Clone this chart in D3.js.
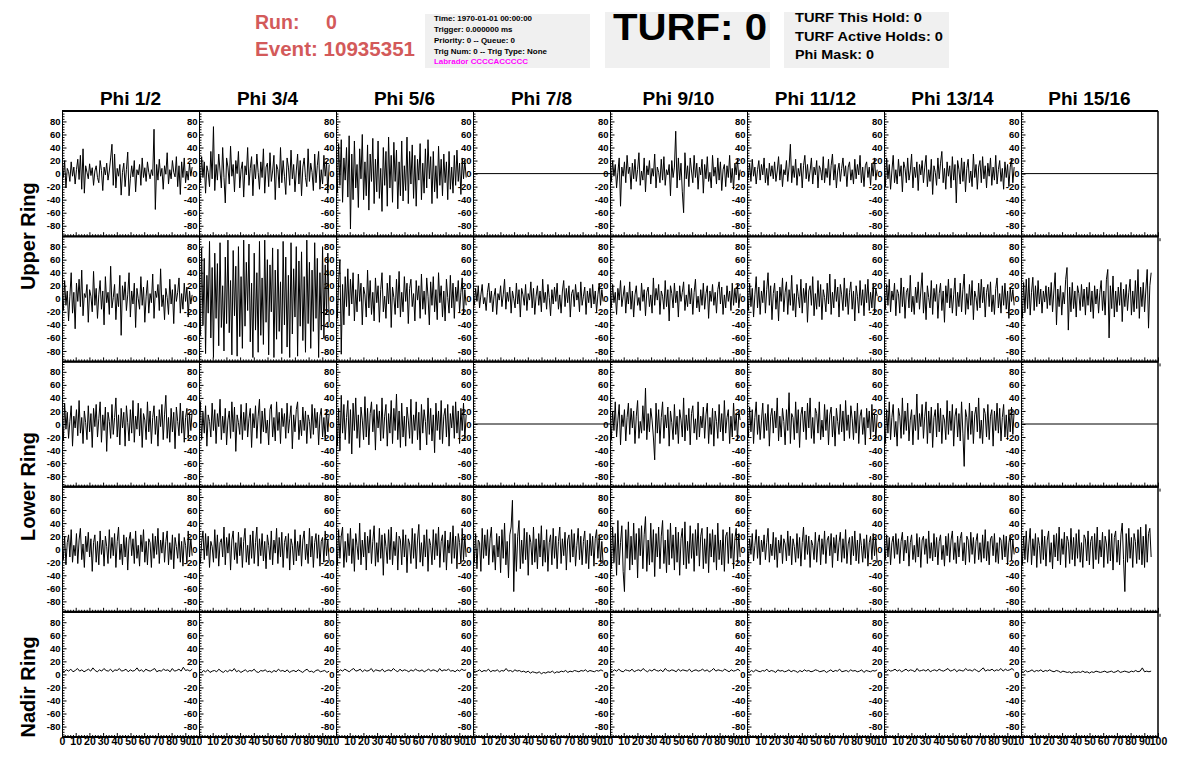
<!DOCTYPE html>
<html><head><meta charset="utf-8">
<script src="https://cdn.jsdelivr.net/npm/d3@7"></script>
<style>
body{margin:0;background:#fff}
svg{display:block}
text{font-family:"Liberation Sans",Arial,Helvetica,sans-serif;font-weight:bold}
</style>
</head><body>
<svg id="c" width="1196" height="772"></svg>
<script>
// ---------------- data ----------------
const colTitles = ["Phi 1/2","Phi 3/4","Phi 5/6","Phi 7/8","Phi 9/10","Phi 11/12","Phi 13/14","Phi 15/16"];
const ringLabels = ["Upper Ring","Lower Ring","Nadir Ring"];
const yTicks = [-80,-60,-40,-20,0,20,40,60,80];
const xTicks = [0,10,20,30,40,50,60,70,80,90,100];
const yDomain = [-96,96];
const xDomain = [0,100];
const waveSpanNs = 95;
const runLine = ["Run:", "0"];
const eventLine = "Event: 10935351";
const infoLines = ["Time: 1970-01-01 00:00:00","Trigger: 0.000000 ms","Priority: 0 -- Queue: 0","Trig Num: 0 -- Trig Type: None"];
const labradorLine = "Labrador CCCCACCCCC";
const turfTitle = "TURF: 0";
const turfLines = ["TURF This Hold: 0","TURF Active Holds: 0","Phi Mask: 0"];

// Upper ring, first row (null = empty channel)
const row1 = [
 [14,-6,20,-22,8,3,-12,18,-4,10, -16,6,22,-9,28,-24,38,-30,12,2, -8,15,-3,9,-18,4,12,-6,-14,20, 5,-26,10,-2,16,-10,4,24,45,-18,
  30,-22,8,-4,14,-33,2,16,-20,6, 33,-34,-8,12,-5,20,-28,6,-2,14, -18,24,-6,9,-12,18,2,-8,6,-3, 68,-55,14,-10,22,-4,8,-24,12,-1,
  32,-16,6,-8,20,2,-5,26,-20,12, -32,18,-6,24,-14,4,-10,16,-4,10],
 [8,-14,26,-6,18,-30,12,2,-20,34, -8,72,-26,14,-10,30,4,-22,40,-6, -45,24,10,-16,42,-4,14,-28,20,0, 34,-22,6,18,-36,12,-2,40,-18,8,
  26,-34,14,-8,30,2,-24,18,-6,38, -30,10,16,-20,32,-12,4,28,-40,14, 6,-22,40,-14,20,-4,-32,24,10,-18, 36,-8,14,-28,4,30,-16,20,-34,10,
  24,-6,-20,38,-12,16,2,-26,30,-14, 12,34,-24,6,-16,28,-4,18,-30,14],
 [16,-30,46,-18,52,-44,24,-10,40,-36, 58,-85,30,-40,50,-22,14,-52,38,-8, 60,-40,18,-34,44,-56,30,-12,54,-46, 22,-28,50,-38,8,-58,40,-18,34,-50,
  56,-22,28,-44,48,-12,36,-54,18,-34, 50,-42,12,-26,56,-46,34,-16,44,-38, 28,-50,22,-10,46,-40,16,-30,38,-22, 52,-8,26,-46,34,-28,12,-38,42,-18,
  22,-34,30,-14,18,-40,34,-24,10,-30, 28,-18,36,-12,16,-32,24,-8,20,-6],
 null,
 [6,-12,20,-4,14,-22,2,24,-50,10, -4,18,-14,28,0,10,-24,16,-8,22, -12,6,32,-18,4,-10,24,-28,12,-2, 20,-16,8,-4,30,-22,10,2,-14,22,
  -10,26,-18,6,-2,14,-34,20,-6,10, 65,-22,24,-10,16,-28,-60,32,-8,12, -20,24,4,-14,28,-6,16,-24,10,-2, 22,-30,14,-8,26,-12,2,-22,28,-4,
  10,-16,24,-10,18,-26,6,14,-20,12, -6,28,-14,8,-24,16,-2,22,-10,6],
 [10,-6,16,-12,22,-4,10,-16,6,20, -10,14,-2,24,-14,8,-18,16,-4,12, -8,18,-12,4,26,-10,14,-20,6,-2, 20,-12,10,45,-14,12,-6,22,-18,8,
  -4,16,-22,12,28,-8,14,-12,4,24, -16,10,-2,20,-22,12,6,-10,26,-14, 8,-6,22,-18,12,30,-10,14,-22,4, 16,-12,8,24,-4,12,-20,10,18,-10,
  6,-16,22,-8,14,-2,28,-14,10,-20, 12,18,-6,10,-18,16,-4,24,-10,6],
 [12,-20,24,-8,14,-24,4,28,-14,6, -16,22,-4,12,-28,18,8,-14,24,-10, 4,30,-22,10,-6,18,-26,14,-2,20, -14,10,28,-20,6,-12,22,-32,12,2,
  -18,24,-8,16,34,-14,8,-24,18,-4, 12,-22,26,-10,14,-45,20,6,-16,24, -12,18,-28,8,22,-14,4,-20,30,-6, 14,-24,10,20,-14,26,-8,12,-22,16,
  -4,24,-18,10,-10,28,-16,6,20,-12, 8,-24,18,-6,14,-20,10,22,-14,10],
 null
];

// Upper ring, second row
const row2 = [
 [6,-18,28,-10,12,-34,4,40,-22,10, -46,24,-4,30,-12,44,-26,8,2,22, -36,14,4,-20,42,-10,16,-30,6,28, -16,12,-40,34,-6,10,-24,50,-14,2,
  22,-32,8,-12,36,-56,20,-2,26,-18, 6,40,-28,12,-8,24,-44,16,0,-16, 34,-10,18,-36,4,28,-22,8,-6,38, -30,12,2,22,-18,46,-12,6,-32,16,
  2,-24,30,-8,14,-38,22,-4,10,32, -22,8,-16,24,-4,18,-28,12,-8,6],
 [30,-56,78,-40,62,-84,36,-22,88,-60, 48,-90,70,-30,54,-72,86,-44,20,-80, 64,-38,90,-52,28,-86,74,-26,50,-88, 80,-58,34,-76,90,-42,56,-18,84,-66,
  24,-90,70,-48,40,-82,88,-56,32,-70, 90,-36,60,-86,52,-20,78,-90,44,-62, 76,-50,26,-84,88,-40,64,-74,36,-90, 86,-54,46,-28,80,-88,58,-42,72,-64,
  34,-82,90,-38,56,-76,44,-50,86,-30, 62,-90,40,-48,80,-60,52,-24,70,-36],
 [14,-30,26,60,-85,22,-40,34,-12,46, -26,30,-8,40,-34,14,-20,38,-4,24, -40,18,6,-28,44,-14,28,-24,10,-34, 32,-6,20,-36,14,40,-20,4,-30,24,
  -8,36,-44,18,2,-24,30,-14,42,-28, 10,-20,34,-4,24,-38,16,30,-12,8, -34,28,-2,20,-30,38,-16,12,-24,32, 4,-40,26,-10,34,-20,14,-32,40,-6,
  20,-28,12,-34,30,2,-22,36,-14,24, -30,18,-4,28,-20,10,32,-24,14,-10],
 [4,-10,16,-4,20,-14,6,22,-8,2, -18,10,24,-6,12,-20,4,16,-24,8, -2,20,-12,6,30,-16,10,-4,18,-22, 12,0,-14,24,-8,14,-28,16,6,-10,
  22,-18,8,-2,26,-14,16,-24,4,20, -10,12,-20,30,-6,10,-16,22,2,-26, 14,-8,18,-4,24,-16,6,-22,12,28, -12,16,-6,20,-28,8,14,-12,22,-2,
  10,-20,26,-10,4,18,-24,12,-6,16, -14,22,-8,12,-20,6,24,-10,14,-4],
 [8,-14,22,-6,10,-24,16,-2,28,-12, 4,20,-22,10,-8,26,-16,12,-28,6, 20,-10,2,-18,24,-4,14,-26,10,18, -12,6,-22,32,-10,16,-2,22,-24,12,
  4,-16,28,-12,14,-34,20,8,-14,24, -6,12,-28,20,-4,10,26,-18,6,-12, 22,-8,16,-24,10,30,-14,4,-20,14, -10,24,-16,8,20,-30,12,-4,22,-10,
  10,-22,14,26,-8,18,-24,6,-14,20, -4,12,-18,24,-10,16,-6,22,-14,8],
 [10,-18,24,-12,16,-28,6,34,-14,18, -24,12,-6,28,-22,14,40,-10,20,-32, 8,24,-16,12,-34,18,-4,32,-20,10, 26,-24,14,-10,36,-18,8,-28,22,4,
  -14,30,-22,16,-6,24,-36,12,20,-10, 34,-26,8,-16,28,-12,22,-32,14,2, -20,24,-8,38,-24,10,-14,30,-4,18, -28,22,6,-18,32,-12,16,-24,10,26,
  -16,12,-34,20,4,-22,28,-10,14,-26, 22,-6,30,-18,10,-14,24,-22,16,4],
 [6,-16,22,-10,30,-20,12,-2,24,-26, 14,8,-22,32,-12,18,-30,10,16,-14, 36,-20,4,-24,18,-6,26,-16,12,40, -22,10,-32,20,2,-14,28,-24,16,-4,
  22,-30,8,24,-18,12,-36,20,-6,30, -14,16,-22,6,32,-26,10,-12,24,-20, 14,38,-24,8,-16,22,-10,28,-32,12, 2,-18,24,-14,30,-6,18,-28,10,22,
  -12,26,-20,6,-24,16,32,-14,8,-22, 20,-10,24,-16,12,-30,18,-4,14,-10],
 [-5,-30,25,-20,30,-15,32,-25,10,33, -18,20,-12,28,-8,15,-22,12,-5,20, -15,18,-10,25,-20,12,40,-40,15,-12, 20,-25,10,-8,30,48,-48,18,-20,25,
  -15,12,-28,20,8,-18,22,-12,15,-25, 18,-10,25,-20,12,-30,20,-8,15,-22, 10,28,-18,12,-25,30,45,-60,20,-15, 35,-28,12,-20,18,-10,25,-35,15,-12,
  22,-18,10,30,-25,12,-20,28,-15,45, -30,18,-12,25,-20,15,45,-45,20,40]
];

// Lower ring, first row
const row3 = [
 [14,-26,32,-8,18,-22,4,28,-34,12, -6,22,-18,36,-14,10,-30,20,2,-24, 28,-12,16,-36,24,-4,30,-20,8,34, -28,14,-10,26,-42,18,4,-22,30,-16,
  10,40,-20,14,-32,24,-6,18,-34,28, 2,-26,22,-14,36,-28,12,-8,32,-18, 24,-36,16,6,-24,34,-12,20,-30,10, 28,-16,12,-34,22,-4,30,-24,14,44,
  -22,10,-28,24,-12,18,-38,26,4,-18, 32,-14,20,-28,10,24,-22,16,-10,20],
 [10,34,-24,18,-14,28,-34,14,4,-20, 32,-10,22,-30,16,-4,38,-24,12,-14, 24,-32,6,20,-22,34,-12,26,-42,14, 2,-16,30,-24,18,-10,32,-20,8,24,
  -36,16,-6,28,-22,12,38,-30,20,-12, 24,-14,6,-32,22,30,-20,10,-26,34, -10,18,-30,24,-4,16,-22,32,-14,8, 28,-38,14,-12,22,34,-24,6,-18,26,
  -10,20,-30,14,4,-22,30,-16,24,-6, 18,-32,12,24,-20,10,-24,22,-12,16],
 [20,-34,24,-40,44,-14,30,-24,10,36, -30,22,-46,32,-10,40,-22,14,-36,26, 6,-24,42,-20,24,-32,16,34,-12,22, -40,30,-6,20,-26,40,-22,12,30,-34,
  16,-14,36,-30,24,-10,46,-24,20,-36, 32,-20,12,-34,26,6,-22,38,-30,14, -10,34,-24,18,-40,30,-14,22,4,-32, 40,-16,24,-26,14,-44,32,-10,20,-24,
  36,-30,12,24,-20,30,-34,16,-6,28, -22,34,-14,20,-30,24,-10,32,-24,14],
 null,
 [14,-24,20,-10,34,-20,6,30,-32,14, -4,22,-26,10,32,-16,24,-6,20,-30, 12,36,-22,4,-14,28,-10,55,-24,16, -12,24,6,-20,-55,32,-14,22,-30,10,
  34,-22,14,-6,26,-34,20,2,-24,30, -16,12,-30,22,6,-20,40,-26,14,-10, 24,-32,16,28,-14,8,-24,34,-20,12, -6,26,-22,14,32,-30,10,-16,24,-34,
  20,4,-22,30,-12,16,-26,36,-14,10, 22,-30,12,-20,32,-10,16,-24,20,6],
 [6,-20,26,-12,22,-30,10,34,-16,14, -24,6,32,-22,16,-10,30,-34,12,24, -14,20,-6,40,-26,12,-20,24,4,-32, 22,-10,48,-30,16,10,-24,34,-14,22,
  -36,14,26,-12,20,-24,32,-6,40,-22, 10,-30,24,16,-14,34,-24,6,-20,30, -10,22,-32,14,26,-20,12,-34,24,4, -16,30,-12,20,-26,36,-10,14,-22,28,
  8,-24,20,-14,32,-30,12,22,-16,10, -32,24,-6,20,-22,30,-12,16,-24,14],
 [16,-30,22,-14,34,-24,10,30,-20,4, -34,24,12,-22,40,-16,20,-10,32,-26, 6,22,-32,14,-10,46,-24,16,-4,30, -22,12,34,-30,20,-14,26,-36,10,22,
  -20,32,-12,24,-30,14,6,-24,36,-16, 20,-10,30,-34,12,24,-20,16,-26,34, -14,-65,22,10,-24,32,-16,20,-30,14, 26,-12,40,-22,6,-30,24,16,-20,30,
  -24,12,22,-34,20,-10,32,-14,24,-26, 10,30,-20,14,-24,22,-12,26,-16,20],
 null
];

// Lower ring, second row
const row4 = [
 [10,-16,20,-24,10,22,-12,30,-20,6, -10,24,-22,14,32,-16,8,-28,20,-4, 26,-12,16,-34,10,22,-20,12,-24,28, -8,14,-26,20,4,-22,30,-14,18,-10,
  24,-28,12,34,-16,8,-24,22,-12,18, -32,14,26,-10,16,-22,28,-14,6,-26, 22,-4,30,-20,12,-24,16,10,-28,24, -14,20,-8,32,-22,14,-6,26,-20,12,
  28,-24,10,-16,22,-30,18,4,-14,24, -20,12,-26,18,6,-22,28,-12,16,-10],
 [14,-22,10,28,-16,24,-10,20,-28,12, 4,-20,30,-14,22,-26,10,16,-12,34, -24,18,-6,24,-32,14,28,-16,10,-22, 26,-10,18,-28,12,32,-20,6,-24,22,
  -14,28,-22,10,34,-26,16,-10,24,-18, 12,-30,22,6,-16,28,-24,14,-6,32, -22,18,-12,26,-28,10,20,-14,24,-32, 16,6,-24,30,-18,12,-10,22,-26,14,
  28,-16,8,-22,32,-12,20,-28,10,24, -14,22,-26,12,18,-20,28,-10,14,-18],
 [10,-24,30,-14,20,34,-28,12,-20,24, -10,32,-22,16,-34,24,6,-16,40,-24, 14,-12,26,-32,20,-6,30,-22,12,36, -26,10,-20,32,-14,22,-40,24,4,-22,
  30,-16,34,-24,12,-10,26,-32,20,14, -24,30,-12,22,-36,16,8,-22,32,-14, 24,-30,14,38,-20,10,-26,22,-12,30, -34,16,6,-24,30,-16,24,-10,34,-28,
  12,22,-20,28,-32,14,-6,26,-22,36, -14,20,-30,24,10,-22,32,-16,20,-12],
 [6,-20,24,-30,14,10,-34,32,-14,22, -10,30,-24,16,34,-20,6,-32,24,-12, 20,-36,30,-14,40,-24,12,-44,22,34, 75,-65,24,-34,20,44,-30,14,-22,32,
  -16,26,-40,22,10,-24,34,-20,16,-30, 24,-12,36,-26,14,-20,30,-34,10,22, -24,32,-14,20,-30,12,34,-22,16,-10, 26,-32,14,22,-20,30,-12,24,-26,6,
  32,-16,20,-24,12,28,-22,14,-30,24, -10,20,-26,16,30,-14,22,-20,12,-24],
 [14,-30,34,-20,24,-40,44,-24,10,36, -34,-65,30,-14,42,-32,20,-24,40,-16, 24,-44,32,-10,36,-30,22,50,-34,14, -24,40,-20,30,-42,24,-12,34,-30,20,
  44,-22,14,-36,30,-24,40,-14,22,-32, 34,-20,26,-40,16,32,-24,42,-30,12, -22,36,-14,24,-34,30,-10,40,-26,20, 32,-30,16,-22,34,-36,24,-12,30,-20,
  22,-32,40,-16,14,-24,30,-34,20,26, -22,34,-14,24,-30,16,32,-20,24,-12],
 [12,-20,16,-8,24,-18,6,30,-14,20, -24,14,-4,22,-16,10,32,-20,8,-10, 26,-16,18,-28,14,-6,22,-22,16,8, -18,28,-10,20,-24,16,4,-20,24,-14,
  18,-26,10,34,-16,22,-8,20,-28,14, 6,-16,26,-20,10,22,-24,16,-8,28, -22,14,20,-10,24,-28,18,-6,22,-18, 10,26,-20,16,-14,30,-22,8,18,-24,
  20,-10,28,-18,14,-22,24,6,-20,16, -14,22,-26,10,20,-16,24,-10,18,-20],
 [8,-16,22,-12,18,-24,10,20,-14,24, -8,16,-22,12,26,-18,14,-6,20,-26, 10,22,-16,6,-20,24,-12,18,-28,14, 20,-8,16,-22,28,-14,10,-18,24,-12,
  18,-24,12,22,-16,6,-26,20,-10,24, -20,14,28,-16,10,-22,20,-12,16,26, -18,10,-24,20,14,-20,26,-8,18,-22, 12,24,-16,10,-20,22,-14,30,-18,12,
  -24,16,20,-10,24,-20,10,-22,18,14, -16,22,-12,20,-24,10,22,-18,14,-8],
 [12,-24,20,-16,28,-20,8,32,-24,16, -10,24,-28,18,6,-22,30,-16,20,-26, 14,28,-20,10,-30,22,-12,24,-18,34, -24,16,-8,26,-28,20,12,-22,32,-16,
  18,-26,24,-14,30,-20,10,-28,22,16, -18,28,-24,12,20,-30,24,-16,34,-22, 14,-12,26,-28,20,8,-22,30,-18,24, -32,18,28,-20,14,-24,22,40,-16,-65,
  24,-20,32,-14,18,-28,24,12,-22,30, -16,34,-24,20,-28,38,-20,24,32,-12]
];

// Nadir ring
const row5 = [
 [6,4,7,5,8,4,6,9,5,7,4,6,8,5,10,6,4,7,5,9,6,5,8,4,7,6,9,5,6,8,4,7,5,6,10,5,7,4,8,6,5,7,9,4,6,5,8,6,7,4,9,5,6,8,5,11,6,7,5,8],
 [5,2,6,4,7,3,5,6,4,8,5,3,6,4,7,5,9,4,6,3,5,7,4,6,5,8,4,3,6,5,7,4,5,3,6,4,8,5,6,4,7,3,5,6,4,7,5,3,6,8,4,5,3,6,7,4,5,6,3,5],
 [6,4,7,5,8,6,4,7,9,5,6,8,4,7,5,6,9,4,7,6,5,8,4,6,7,5,9,6,4,8,5,7,6,4,7,5,8,6,5,7,4,6,8,5,7,6,4,9,5,7,6,8,5,6,4,7,5,8,6,7],
 [6,4,5,7,4,6,5,8,4,6,5,7,4,6,5,9,5,6,4,7,5,6,4,5,3,5,2,4,3,2,4,1,3,2,4,3,5,2,4,3,5,4,6,3,5,4,6,5,4,6,5,7,4,6,5,4,6,5,7,5],
 [6,4,7,5,8,5,4,7,6,5,8,4,6,7,5,9,6,4,7,5,8,6,5,7,4,9,6,5,7,6,4,8,5,7,6,5,8,4,6,7,5,6,8,5,7,4,6,9,5,7,6,5,8,6,4,7,5,6,8,5],
 [5,3,6,4,7,5,4,6,5,8,4,6,5,3,7,5,6,4,5,7,4,6,5,3,6,4,7,5,6,4,5,7,6,4,5,6,3,5,7,4,6,5,8,4,5,6,4,7,5,6,4,5,7,3,6,5,4,6,5,7],
 [6,4,7,5,6,8,5,7,4,6,8,5,7,6,4,9,5,6,7,5,8,4,6,7,5,8,6,5,7,9,5,6,8,4,7,6,5,9,6,7,5,8,6,4,7,10,5,7,6,8,5,7,6,9,5,8,6,7,9,6],
 [5,3,6,4,5,7,4,6,5,7,4,6,5,7,5,4,6,5,3,5,4,3,4,2,4,3,4,3,5,3,4,2,4,3,5,4,3,4,5,3,4,5,3,4,6,3,4,5,4,3,5,4,6,4,5,10,4,5,4,5]
];

// ---------------- drawing ----------------
const svg = d3.select("#c");
const defs = svg.append("defs");
const L0 = 62, CW = 137, T0 = 111, RH = 125.2, NC = 8;
const rows = [row1, row2, row3, row4, row5];
const minorY = d3.range(-96, 97, 4).filter(v => v % 20 !== 0);
const minorX = d3.range(0, 101, 2).filter(v => v % 10 !== 0);
const red = "#d35a5a";

rows.forEach((row, r) => {
  const top = T0 + r * RH, bot = top + RH;
  const y = d3.scaleLinear().domain(yDomain).range([bot, top]);
  row.forEach((vals, c) => {
    const left = L0 + c * CW, right = left + CW;
    const x = d3.scaleLinear().domain(xDomain).range([left, right]);
    const g = svg.append("g");
    const cid = `clip${r}_${c}`;
    defs.append("clipPath").attr("id", cid).append("rect")
      .attr("x", left).attr("y", top).attr("width", CW).attr("height", RH);
    // y axis (ticks pointing inward)
    g.append("g").attr("transform", `translate(${left},0)`)
      .call(d3.axisLeft(y).tickValues(minorY).tickSizeInner(-2.5).tickSizeOuter(0).tickFormat(""));
    const ya = g.append("g").attr("transform", `translate(${left},0)`)
      .call(d3.axisLeft(y).tickValues(yTicks).tickSizeInner(-4.5).tickSizeOuter(0).tickPadding(1.5).tickFormat(d => String(d)));
    ya.selectAll("text").attr("font-size", 9.5);
    ya.attr("font-family", null).attr("font-size", null);
    // x axis at bottom (ticks pointing up)
    g.append("g").attr("transform", `translate(0,${bot})`)
      .call(d3.axisBottom(x).tickValues(minorX).tickSizeInner(-2).tickSizeOuter(0).tickFormat(""));
    if (r === rows.length - 1) {
      const clipX = `clipx${c}`;
      // clip rect in the axis group's local coordinates (group is translated by bot)
      defs.append("clipPath").attr("id", clipX).append("rect")
        .attr("x", left - 10).attr("y", -10)
        .attr("width", (c === NC - 1 ? CW + 30 : CW + 13)).attr("height", 30);
      const xa = g.append("g").attr("transform", `translate(0,${bot})`).attr("clip-path", `url(#${clipX})`)
        .call(d3.axisBottom(x).tickValues(xTicks).tickSizeInner(-4).tickSizeOuter(0).tickPadding(1)
          .tickFormat(d => (d === 0 && c > 0) ? "" : String(d)));
      xa.selectAll("text").attr("font-size", 10.5);
      xa.attr("font-family", null).attr("font-size", null);
    } else {
      g.append("g").attr("transform", `translate(0,${bot})`)
        .call(d3.axisBottom(x).tickValues(xTicks).tickSizeInner(-4).tickSizeOuter(0).tickFormat(""));
    }
    g.selectAll(".domain").attr("stroke", "#000");
    g.selectAll(".tick line").attr("stroke", "#000");
    g.selectAll(".tick text").attr("fill", "#000");
    // waveform
    const pts = vals
      ? vals.map((v, i) => [i * waveSpanNs / (vals.length - 1), v])
      : [[xDomain[0], 0], [xDomain[1], 0]];
    g.append("path").attr("clip-path", `url(#${cid})`).datum(pts)
      .attr("d", d3.line().x(d => x(d[0])).y(d => y(d[1])))
      .attr("fill", "none").attr("stroke", "#000").attr("stroke-width", 1)
      .attr("stroke-linejoin", "miter");
  });
});

// frame lines
const xEnd = L0 + NC * CW;
for (let r = 0; r <= rows.length; r++) {
  svg.append("line").attr("x1", L0).attr("x2", xEnd)
    .attr("y1", T0 + r * RH).attr("y2", T0 + r * RH)
    .attr("stroke", "#000").attr("stroke-width", 2);
}
svg.append("line").attr("x1", xEnd).attr("x2", xEnd).attr("y1", T0).attr("y2", T0 + rows.length * RH)
  .attr("stroke", "#000").attr("stroke-width", 1.5);
for (let r = 1; r < rows.length; r++) {
  svg.append("line").attr("x1", xEnd + 2).attr("x2", xEnd + 2)
    .attr("y1", T0 + r * RH + 2).attr("y2", T0 + r * RH + 5)
    .attr("stroke", "#000").attr("stroke-width", 1);
}

// column titles
colTitles.forEach((t, c) => {
  svg.append("text").attr("x", L0 + c * CW + CW / 2).attr("y", 105)
    .attr("text-anchor", "middle").attr("font-size", 19).attr("fill", "#000").text(t);
});

// ring labels
const ringCenters = [T0 + RH, T0 + 3 * RH, T0 + 4.6 * RH];
ringLabels.forEach((t, i) => {
  svg.append("text").attr("transform", `translate(35,${ringCenters[i]}) rotate(-90)`)
    .attr("text-anchor", "middle").attr("font-size", 20).attr("fill", "#000").text(t);
});

// header: run / event
svg.append("text").attr("x", 255).attr("y", 29).attr("font-size", 19.5).attr("fill", red).text(runLine[0]);
svg.append("text").attr("x", 326).attr("y", 29).attr("font-size", 19.5).attr("fill", red).text(runLine[1]);
svg.append("text").attr("x", 255).attr("y", 56).attr("font-size", 19.5).attr("fill", red)
  .attr("textLength", 160).attr("lengthAdjust", "spacingAndGlyphs").text(eventLine);

// info box
svg.append("rect").attr("x", 425).attr("y", 14).attr("width", 165).attr("height", 54).attr("fill", "#f0f0f0");
const infoBase = [20.5, 31.5, 42.6, 53.8];
const infoW = [98, 78.5, 81, 113];
infoLines.forEach((t, i) => {
  svg.append("text").attr("x", 434).attr("y", infoBase[i]).attr("font-size", 8).attr("fill", "#000")
    .attr("textLength", infoW[i]).attr("lengthAdjust", "spacingAndGlyphs").text(t);
});
svg.append("text").attr("x", 434).attr("y", 64.2).attr("font-size", 8).attr("fill", "#ff00ff")
  .attr("textLength", 94).attr("lengthAdjust", "spacingAndGlyphs").text(labradorLine);

// TURF box
svg.append("rect").attr("x", 605).attr("y", 12).attr("width", 165).attr("height", 56).attr("fill", "#f0f0f0");
svg.append("text").attr("x", 613).attr("y", 39.5).attr("font-size", 37.5).attr("fill", "#000")
  .attr("textLength", 154).attr("lengthAdjust", "spacingAndGlyphs").text(turfTitle);

// TURF detail box
svg.append("rect").attr("x", 784).attr("y", 12).attr("width", 165).attr("height", 56).attr("fill", "#f0f0f0");
const turfBase = [21.8, 40.5, 58.5];
const turfW = [127, 148, 79];
turfLines.forEach((t, i) => {
  svg.append("text").attr("x", 795).attr("y", turfBase[i]).attr("font-size", 13).attr("fill", "#000")
    .attr("textLength", turfW[i]).attr("lengthAdjust", "spacingAndGlyphs").text(t);
});
</script>
</body></html>
